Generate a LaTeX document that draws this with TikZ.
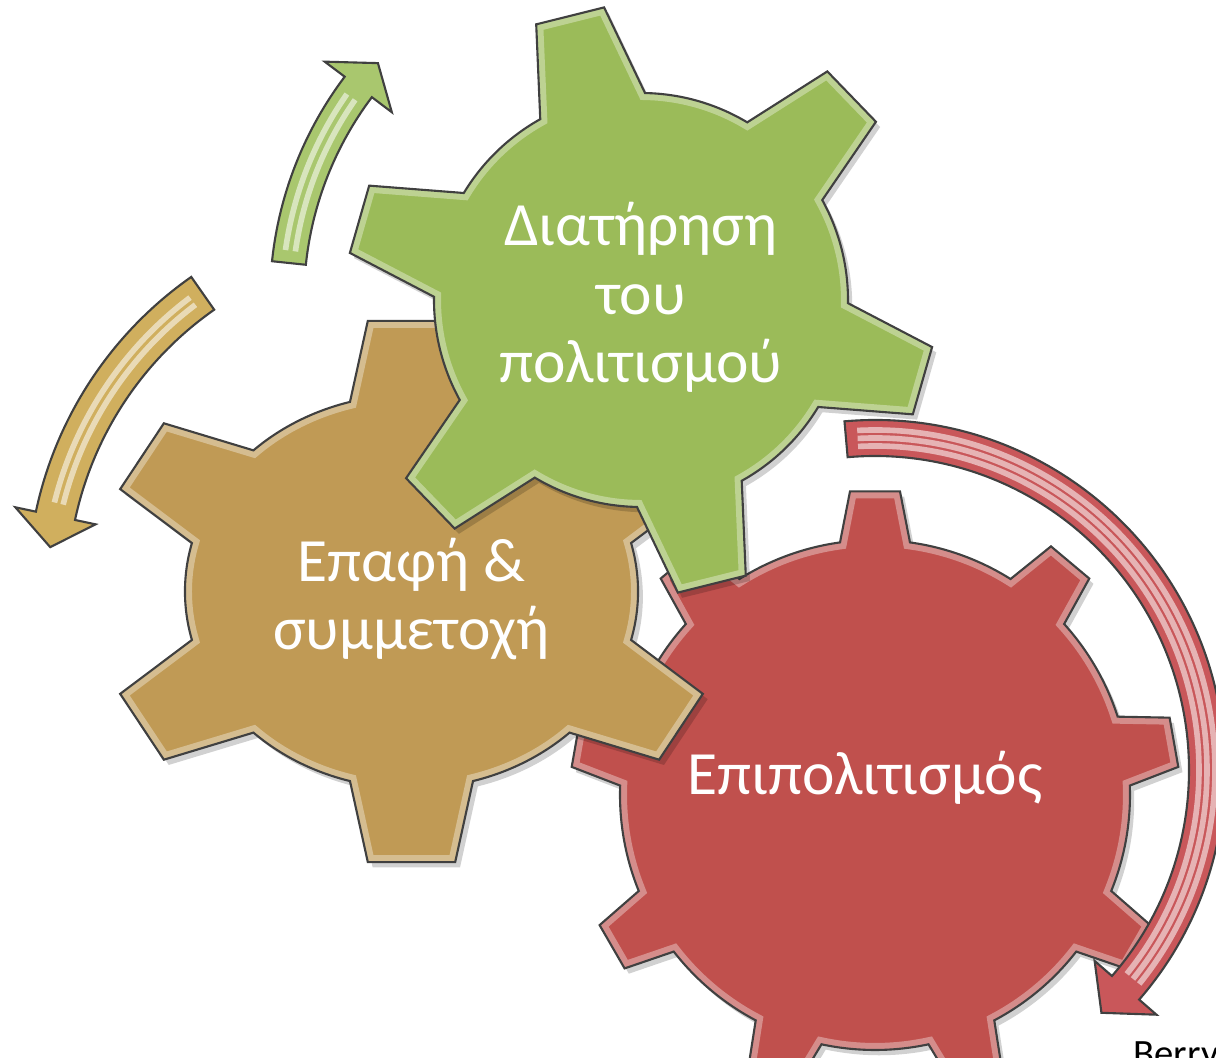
\documentclass[tikz,border=0pt]{standalone}
\usepackage{fontspec}
\setmainfont{Carlito}

\definecolor{cogGreen}{HTML}{9BBB59}
\definecolor{cogTan}{HTML}{C09A55}
\definecolor{cogRed}{HTML}{C0504D}
\definecolor{arrGreen}{HTML}{A9C76E}
\definecolor{arrGold}{HTML}{D0AF5E}
\definecolor{arrRed}{HTML}{C9575A}

\newcommand{\gear}[7]{%
  \pgfmathsetmacro{\gearB}{asin(#6/#4)}%
  \pgfmathsetmacro{\gearD}{#4*cos(\gearB)+#5}%
  \pgfmathsetmacro{\gearG}{atan(#7/\gearD)}%
  \pgfmathsetmacro{\gearR}{\gearD/cos(\gearG)}%
  \pgfmathsetmacro{\gearS}{360/#2}%
  #1 ({#3-\gearB}:#4) \foreach \k in {1,...,#2}{%
    -- ({#3+(\k-1)*\gearS-\gearG}:\gearR) -- ({#3+(\k-1)*\gearS+\gearG}:\gearR)
    -- ({#3+(\k-1)*\gearS+\gearB}:#4)
    arc[start angle={#3+(\k-1)*\gearS+\gearB}, end angle={#3+\k*\gearS-\gearB}, radius=#4]} -- cycle;}

\newcommand{\cog}[7]{%
  \gear{\fill[black, opacity=.18, xshift=1.2pt, yshift=-1.5pt]}{#2}{#3}{#4}{#5}{#6}{#7}
  \gear{\fill[#1]}{#2}{#3}{#4}{#5}{#6}{#7}
  \begin{scope}
    \gear{\clip}{#2}{#3}{#4}{#5}{#6}{#7}
    \gear{\draw[white, opacity=.35, line width=4pt]}{#2}{#3}{#4}{#5}{#6}{#7}
  \end{scope}
  \gear{\draw[cogline]}{#2}{#3}{#4}{#5}{#6}{#7}}

\newcommand{\bentarrow}[7]{%
  #1 ({#4}:{#2+#3}) arc[start angle=#4, end angle=#5, radius={#2+#3}]
    -- ({#5}:{#2+#7}) -- ({#6}:#2) -- ({#5}:{#2-#7}) -- ({#5}:{#2-#3})
    arc[start angle=#5, end angle=#4, radius={#2-#3}] -- cycle;}

\begin{document}
\begin{tikzpicture}[x=0.1mm, y=0.1mm,
  cogtext/.style={text=white, font=\fontsize{17.5}{19.6}\selectfont, align=center, inner sep=0pt, anchor=base},
  cogline/.style={draw=black!75, line width=0.6pt},
  shine/.style={white, opacity=.55, line width=1.6pt},
  ]
\useasboundingbox (0,0) rectangle (1216,1058);
\clip (0,0) rectangle (1216,1058);
\fill[white] (0,0) rectangle (1216,1058);

\begin{scope}[shift={(875,263)}]
  \cog{cogRed}{9}{90}{255}{51}{35}{25}
\end{scope}
\begin{scope}[shift={(411.5,466.5)}, xscale=1.15]
  \cog{cogTan}{6}{30}{197}{81}{53.5}{38}
\end{scope}
\begin{scope}[shift={(641,758)}]
  \cog{cogGreen}{6}{44}{207}{93}{54}{35}
\end{scope}

\begin{scope}[shift={(641,758)}]
  \bentarrow{\fill[arrGreen]}{354}{17}{174}{143}{138}{42}
  \draw[shine] (172:349) arc[start angle=172, end angle=145, radius=349];
  \draw[shine] (172:359) arc[start angle=172, end angle=145, radius=359];
  \bentarrow{\draw[cogline]}{354}{17}{174}{143}{138}{42}
\end{scope}
\begin{scope}[shift={(411.5,466.5)}]
  \bentarrow{\fill[arrGold]}{364}{20}{125}{168}{173}{41}
  \draw[shine] (127:359) arc[start angle=127, end angle=166, radius=359];
  \draw[shine] (127:368) arc[start angle=127, end angle=166, radius=368];
  \bentarrow{\draw[cogline]}{364}{20}{125}{168}{173}{41}
\end{scope}
\begin{scope}[shift={(875,288)}]
  \bentarrow{\fill[arrRed]}{332}{18}{95}{-41}{-47}{41}
  \draw[shine] (93:324) arc[start angle=93, end angle=-39, radius=324];
  \draw[shine] (93:332) arc[start angle=93, end angle=-39, radius=332];
  \draw[shine] (93:340) arc[start angle=93, end angle=-39, radius=340];
  \bentarrow{\draw[cogline]}{332}{18}{95}{-41}{-47}{41}
\end{scope}

\node[cogtext] (keep) at (641,675) {Διατήρηση\\του\\πολιτισμού};
\node[cogtext] (contact) at (411.5,408) {Επαφή \&\\συμμετοχή};
\node[cogtext] (accult) at (865,263) {Επιπολιτισμός};
\node[anchor=base west, inner sep=0pt, font=\fontsize{11}{13}\selectfont] (source) at (1133,-9) {Berry};
\end{tikzpicture}
\end{document}
